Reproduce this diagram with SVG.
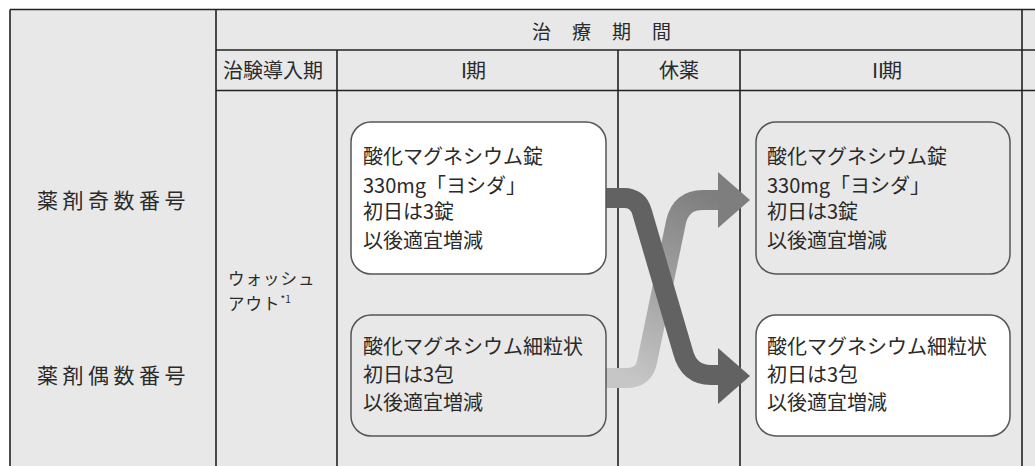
<svg xmlns="http://www.w3.org/2000/svg" width="1035" height="466" viewBox="0 0 1035 466">
<defs>
<style>
.t{font-family:"Noto Sans CJK JP","Noto Sans",sans-serif;fill:#2a2a2a}
.grid{stroke:#222;stroke-width:1.6;fill:none}
.box{stroke:#555;stroke-width:1.5}
.w{fill:#ffffff}
.g{fill:#e8e8e8}
</style>
<linearGradient id="lg" gradientUnits="userSpaceOnUse" x1="630" y1="380" x2="720" y2="200">
<stop offset="0" stop-color="#c6c6c6"/>
<stop offset="1" stop-color="#7e7e7e"/>
</linearGradient>
</defs>
<rect x="0" y="0" width="1035" height="466" fill="#ffffff"/>
<rect x="10" y="9.5" width="1025" height="457" fill="#e8e8e8"/>
<g id="table" class="grid">
<path d="M10 9.5H1035M10 9.5V466M216 9.5V466M1022 9.5V466M216 50H1035M216 90.5H1035M337 50V466M618 50V466M740 50V466"/>
</g>
<g id="headers">
<text class="t" x="532" y="39" font-size="19" letter-spacing="21">治療期間</text>
<text class="t" x="223" y="78" font-size="20">治験導入期</text>
<text class="t" x="454" y="78" font-size="20"><tspan letter-spacing="-8">Ⅰ</tspan>期</text>
<text class="t" x="679" y="78" font-size="20" text-anchor="middle">休薬</text>
<text class="t" x="868" y="78" font-size="20"><tspan letter-spacing="-6">Ⅱ</tspan>期</text>
</g>
<g id="row-labels">
<text class="t" x="37" y="208" font-size="21" letter-spacing="4.5">薬剤奇数番号</text>
<text class="t" x="37" y="383" font-size="21" letter-spacing="4.5">薬剤偶数番号</text>
</g>
<g id="washout">
<text class="t" font-size="16.5" letter-spacing="1"><tspan x="228" y="285">ウォッシュ</tspan><tspan x="228" y="309.5">アウト</tspan><tspan font-size="10" letter-spacing="0" dy="-7">*1</tspan></text>
</g>
<g id="connectors">
<path d="M606 378H626Q644 378 647 362L676 222Q681 200 703 200H720" fill="none" stroke="url(#lg)" stroke-width="20"/>
<polygon points="718,172 750,200 718,228" fill="#7e7e7e"/>
<path d="M606 198H624Q638 198 642 212L683 352Q689 375 711 375H720" fill="none" stroke="#626262" stroke-width="20"/>
<polygon points="718,348 750,376 718,404" fill="#626262"/>
</g>
<g id="node-p1-tablet">
<rect class="box w" x="351" y="122" width="255" height="152" rx="20"/>
<text class="t" font-size="20"><tspan x="363" y="164">酸化マグネシウム錠</tspan><tspan x="363" y="192.5">330mg「ヨシダ」</tspan><tspan x="363" y="219">初日は3錠</tspan><tspan x="363" y="247.5">以後適宜増減</tspan></text>
</g>
<g id="node-p1-granule">
<rect class="box g" x="351" y="315" width="255" height="121" rx="20"/>
<text class="t" font-size="20"><tspan x="363" y="354">酸化マグネシウム細粒状</tspan><tspan x="363" y="382">初日は3包</tspan><tspan x="363" y="410">以後適宜増減</tspan></text>
</g>
<g id="node-p2-tablet">
<rect class="box g" x="756" y="122" width="254" height="152" rx="20"/>
<text class="t" font-size="20"><tspan x="767" y="164">酸化マグネシウム錠</tspan><tspan x="767" y="192.5">330mg「ヨシダ」</tspan><tspan x="767" y="219">初日は3錠</tspan><tspan x="767" y="247.5">以後適宜増減</tspan></text>
</g>
<g id="node-p2-granule">
<rect class="box w" x="756" y="315" width="254" height="121" rx="20"/>
<text class="t" font-size="20"><tspan x="767" y="354">酸化マグネシウム細粒状</tspan><tspan x="767" y="382">初日は3包</tspan><tspan x="767" y="410">以後適宜増減</tspan></text>
</g>
</svg>
